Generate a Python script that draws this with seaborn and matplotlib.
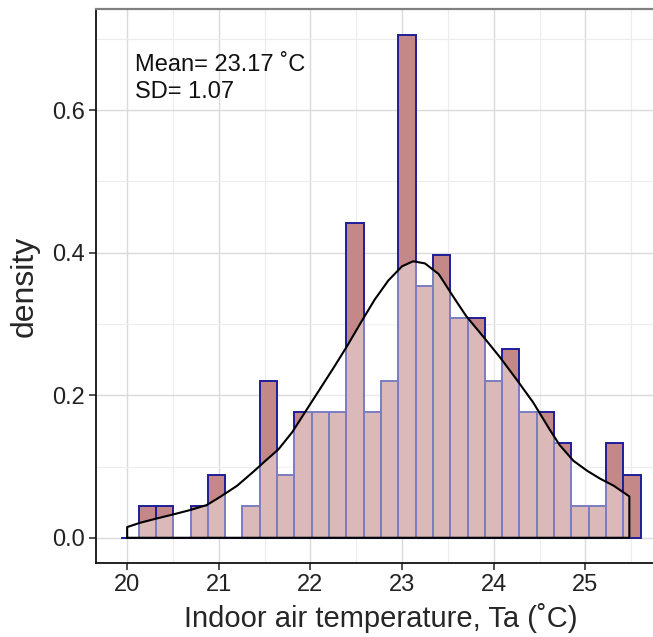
import numpy as np
import matplotlib
matplotlib.use("Agg")
import matplotlib.pyplot as plt
import seaborn as sns

# histogram: 30 bins over the range below, counts per bin (n = 120)
bin_range = (19.936, 25.603)
n_bins = 30
bin_counts = [0, 1, 1, 0, 1, 2, 0, 1, 5, 2,
              4, 4, 4, 10, 4, 5, 16, 8, 9, 7,
              7, 5, 6, 4, 4, 3, 1, 1, 3, 2]

# density curve
curve_x = [20.00, 20.14, 20.32, 20.51, 20.69, 20.87, 21.01, 21.20, 21.38, 21.50,
           21.65, 21.80, 21.95, 22.10, 22.25, 22.40, 22.55, 22.70, 22.85, 23.00,
           23.12, 23.25, 23.40, 23.55, 23.70, 23.90, 24.07, 24.25, 24.43, 24.61,
           24.72, 24.87, 25.02, 25.16, 25.31, 25.48]
curve_y = [0.015, 0.021, 0.027, 0.033, 0.039, 0.046, 0.057, 0.073, 0.093, 0.107,
           0.124, 0.148, 0.178, 0.208, 0.238, 0.269, 0.302, 0.334, 0.361, 0.381,
           0.388, 0.385, 0.370, 0.340, 0.311, 0.280, 0.253, 0.222, 0.190, 0.152,
           0.130, 0.108, 0.094, 0.083, 0.073, 0.058]

x_ticks = [20, 21, 22, 23, 24, 25]
y_ticks = [0.0, 0.2, 0.4, 0.6]
note = "Mean= 23.17 \u02daC\nSD= 1.07"

sns.set_style("white")
plt.rcParams["font.family"] = ["Liberation Sans", "DejaVu Sans"]

fig = plt.figure(figsize=(6.53, 6.37), dpi=100)
ax = fig.add_axes([96 / 653, 74 / 637, 570 / 653, 554 / 637])

edges = np.linspace(bin_range[0], bin_range[1], n_bins + 1)
centers = (edges[:-1] + edges[1:]) / 2

sns.histplot(x=centers, weights=bin_counts, bins=n_bins, binrange=bin_range,
             stat="density", color="#c48888", edgecolor="#1e1e98",
             linewidth=1.4, alpha=1, ax=ax, zorder=2)

# white translucent density area over the bars, then its outline
ax.fill_between(curve_x, curve_y, 0, color="white", alpha=0.42, linewidth=0, zorder=3)
outline_x = [curve_x[0]] + curve_x + [curve_x[-1], curve_x[0]]
outline_y = [0] + curve_y + [0, 0]
sns.lineplot(x=outline_x, y=outline_y, sort=False, estimator=None,
             color="black", linewidth=1.5, ax=ax, zorder=4)

ax.text(20.09, 0.645, note, ha="left", va="center", fontsize=17,
        linespacing=1.3, color="#111111", zorder=5)

ax.set_xlim(19.66, 25.88)
ax.set_ylim(-0.0354, 0.742)
ax.set_xticks(x_ticks)
ax.set_xticklabels([str(t) for t in x_ticks])
ax.set_xticks([20.5, 21.5, 22.5, 23.5, 24.5, 25.5], minor=True)
ax.set_yticks(y_ticks)
ax.set_yticklabels([f"{t:.1f}" for t in y_ticks])
ax.set_yticks([0.1, 0.3, 0.5, 0.7], minor=True)

ax.grid(which="major", color="#dadada", linewidth=1.0, zorder=0)
ax.grid(which="minor", color="#ececec", linewidth=0.8, zorder=0)
ax.set_axisbelow(True)

ax.tick_params(axis="both", which="major", length=5, width=1.2, color="#333333",
               labelsize=17, labelcolor="#222222", pad=3, direction="out",
               bottom=True, left=True)
ax.tick_params(axis="both", which="minor", length=0)

for side in ["left", "bottom"]:
    ax.spines[side].set_color("#111111")
    ax.spines[side].set_linewidth(1.3)
ax.spines["top"].set_color("#808080")
ax.spines["top"].set_linewidth(1.6)
ax.spines["right"].set_visible(False)

ax.set_xlabel("Indoor air temperature, Ta (\u02daC)", fontsize=21, labelpad=5)
ax.set_ylabel("density", fontsize=23, labelpad=9)

fig.savefig("out.png", dpi=100)
plt.close(fig)
